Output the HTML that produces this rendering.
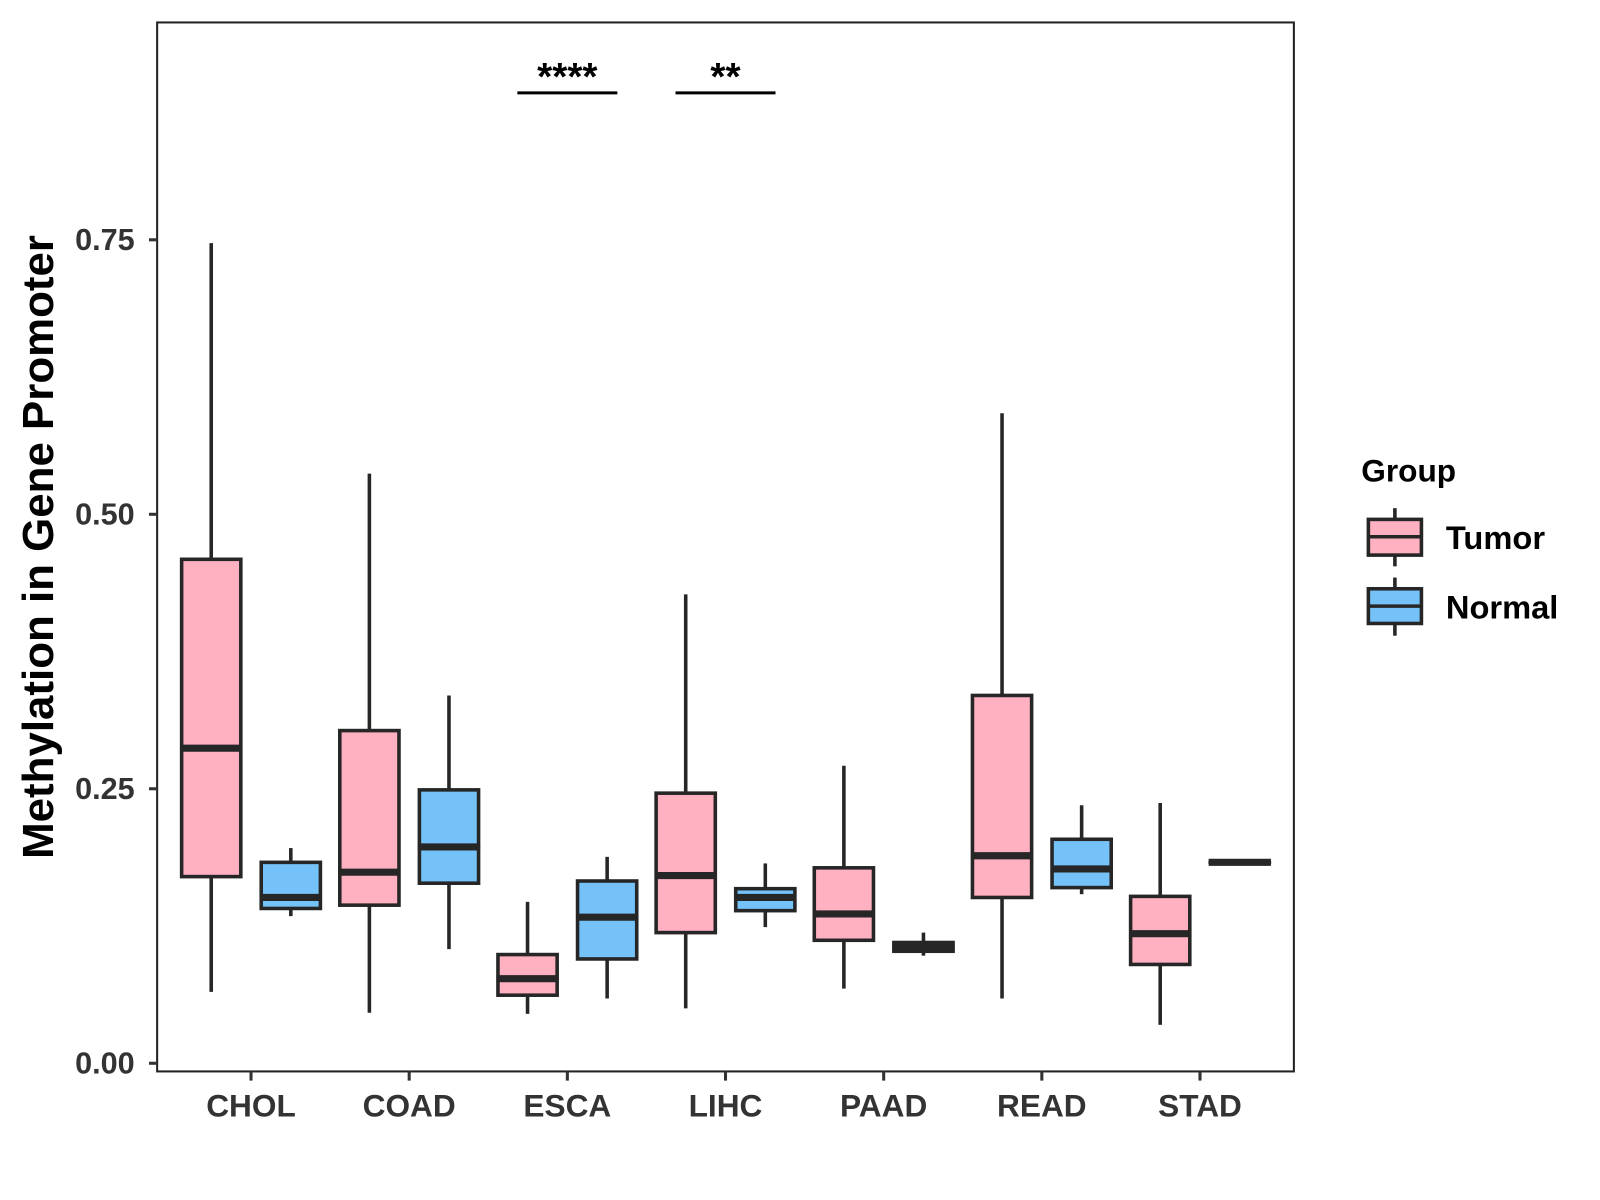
<!DOCTYPE html>
<html><head><meta charset="utf-8"><style>
html,body{margin:0;padding:0;background:#fff;}
svg{display:block;font-family:"Liberation Sans",Arial,sans-serif;}
</style></head><body>
<svg id="chart" width="1600" height="1200" viewBox="0 0 1568 1176" xmlns="http://www.w3.org/2000/svg">
<rect x="0" y="0" width="1568" height="1176" fill="#fff"/>
<g id="plot"></g>
<text transform="translate(52,536) rotate(-90)" text-anchor="middle" font-size="43" font-weight="bold" fill="#000">Methylation in Gene Promoter</text>
<g>
<text x="1334" y="472" font-size="31" font-weight="bold" fill="#000">Group</text>
<g>
<line x1="1367" y1="498" x2="1367" y2="555" stroke="#262626" stroke-width="3.5"/>
<rect x="1341" y="509" width="52" height="35" fill="#FFB0C1" stroke="#262626" stroke-width="3.5"/>
<line x1="1341" y1="526" x2="1393" y2="526" stroke="#262626" stroke-width="3.5"/>
<text x="1417" y="538" font-size="32" font-weight="bold" fill="#000">Tumor</text>
</g>
<g>
<line x1="1367" y1="566" x2="1367" y2="623" stroke="#262626" stroke-width="3.5"/>
<rect x="1341" y="577" width="52" height="34" fill="#74C2F8" stroke="#262626" stroke-width="3.5"/>
<line x1="1341" y1="594" x2="1393" y2="594" stroke="#262626" stroke-width="3.5"/>
<text x="1417" y="606" font-size="32" font-weight="bold" fill="#000">Normal</text>
</g>
</g>
</svg>
<script>
const categories = ["CHOL","COAD","ESCA","LIHC","PAAD","READ","STAD"];
// [min, q1, median, q3, max]
const tumorStats = [
  [0.065,0.170,0.287,0.459,0.747],
  [0.046,0.144,0.174,0.303,0.537],
  [0.045,0.062,0.077,0.099,0.147],
  [0.050,0.119,0.171,0.246,0.427],
  [0.068,0.112,0.136,0.178,0.271],
  [0.059,0.151,0.189,0.335,0.592],
  [0.035,0.090,0.118,0.152,0.237]
];
const normalStats = [
  [0.134,0.141,0.151,0.183,0.196],
  [0.104,0.164,0.197,0.249,0.335],
  [0.059,0.095,0.133,0.166,0.188],
  [0.124,0.139,0.151,0.159,0.182],
  [0.098,0.102,0.106,0.110,0.119],
  [0.154,0.160,0.177,0.204,0.235],
  [0.183,0.183,0.183,0.183,0.183]
];
const yTicks = [0, 0.25, 0.5, 0.75];
const yTickLabels = ["0.00","0.25","0.50","0.75"];
const sigCategories = ["ESCA","LIHC"];
const sigLabels = ["****","**"];

const NS="http://www.w3.org/2000/svg";
const P={l:154,r:1268,t:22,b:1050};
const yS=v=>1042-v*1076;
const xS=i=>246+i*155;
const g=document.getElementById('plot');
function mk(tag,attrs,parent){const e=document.createElementNS(NS,tag);for(const k in attrs)e.setAttribute(k,attrs[k]);(parent||g).appendChild(e);return e;}

const panel=mk('rect',{x:P.l,y:P.t,width:P.r-P.l,height:P.b-P.t,fill:'#fff',stroke:'#222',"stroke-width":2});



yTicks.forEach((v,i)=>{
  const y=yS(v);
  const t=mk('line',{x1:P.l-8,x2:P.l,y1:y,y2:y,stroke:'#333',"stroke-width":3});
  
  
  const l=mk('text',{x:P.l-22,y:y+10,"text-anchor":"end","font-size":30,"font-weight":"bold",fill:'#333'});
  l.textContent=yTickLabels[i];
  
  
});
categories.forEach((c,i)=>{
  const x=xS(i);
  const t=mk('line',{x1:x,x2:x,y1:P.b,y2:P.b+9,stroke:'#333',"stroke-width":3});
  
  
  const l=mk('text',{x:x,y:P.b+44,"text-anchor":"middle","font-size":31,"font-weight":"bold",fill:'#333'});
  l.textContent=c;
  
  
});
function box(stats,cx,fill,name){
  const bg=mk('g',{});
  
  
  const [mn,q1,md,q3,mx]=stats;const w=58;
  mk('line',{x1:cx,x2:cx,y1:yS(mx),y2:yS(q3),stroke:'#262626',"stroke-width":3.5},bg);
  mk('line',{x1:cx,x2:cx,y1:yS(q1),y2:yS(mn),stroke:'#262626',"stroke-width":3.5},bg);
  mk('rect',{x:cx-w/2,y:yS(q3),width:w,height:Math.max(yS(q1)-yS(q3),0.01),fill:fill,stroke:'#262626',"stroke-width":3.5},bg);
  mk('line',{x1:cx-w/2-1.5,x2:cx+w/2+1.5,y1:yS(md),y2:yS(md),stroke:'#262626',"stroke-width":7,"stroke-linecap":"butt"},bg);
}
categories.forEach((c,i)=>{
  box(tumorStats[i],xS(i)-39,'#FFB0C1','box-tumor-'+c.toLowerCase());
  box(normalStats[i],xS(i)+39,'#74C2F8','box-normal-'+c.toLowerCase());
});
sigCategories.forEach((c,k)=>{
  const i=categories.indexOf(c);const x=xS(i);
  const ln=mk('line',{x1:x-49,x2:x+49,y1:91,y2:91,stroke:'#000',"stroke-width":3});
  
  
  const t=mk('text',{x:x,y:88,"text-anchor":"middle","font-size":38,"font-weight":"bold",fill:'#000'});
  t.textContent=sigLabels[k];
  
  
});
</script>
</body></html>
